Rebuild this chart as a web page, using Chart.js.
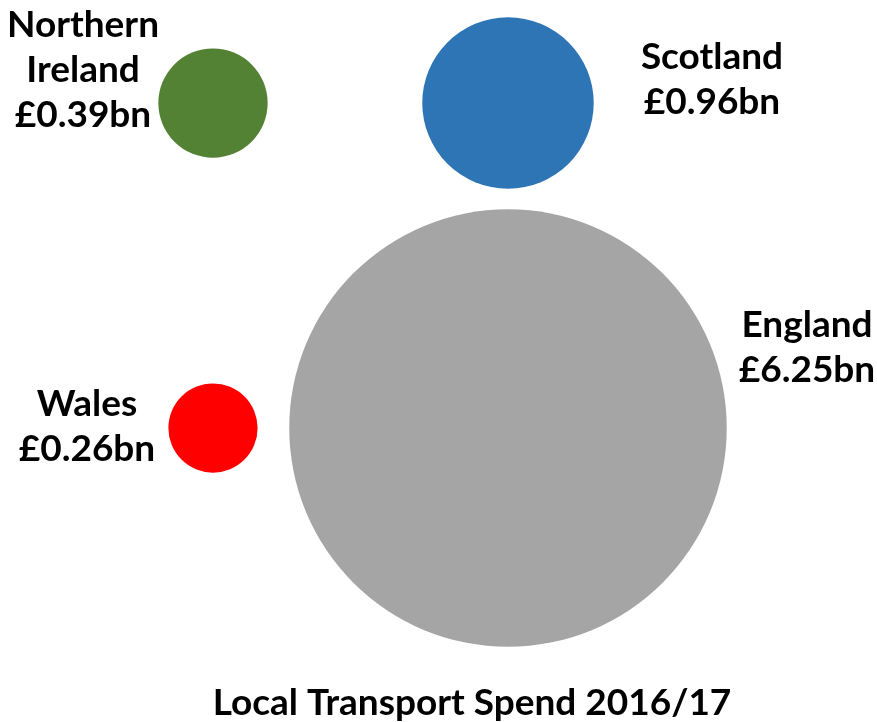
<!DOCTYPE html>
<html>
<head>
<meta charset="utf-8">
<title>Local Transport Spend 2016/17</title>
<script src="https://cdn.jsdelivr.net/npm/chart.js@4/dist/chart.umd.min.js"></script>
<style>
  html, body { margin: 0; padding: 0; background: #ffffff; }
  #wrap { width: 877px; height: 722px; }
</style>
</head>
<body>
<div id="wrap"><canvas id="chart" width="877" height="722"></canvas></div>
<script>
// Spend per nation, £bn
const nations = ['Northern\nIreland', 'Scotland', 'England', 'Wales'];
const spendBn = [0.39, 0.96, 6.25, 0.26];
// Grid cell each bubble sits in (column, row)
const gridColumn = [1, 2, 2, 1];
const gridRow = [2, 2, 1, 1];
const colours = ['#548235', '#2E75B6', '#A5A5A5', '#FF0000'];

// Label block offsets from each bubble centre, in pixels
const labelOffset = [[-130, -33], [204, -23], [299, -80], [-126, -1]];

const FONT = 'Lato, "Open Sans", sans-serif';
const LABEL_SIZE = 37;
const LINE_GAP = 45;
// Bubble area is proportional to spend
const RADIUS_PER_ROOT_BN = 87.5;

const points = spendBn.map((v, i) => ({ x: gridColumn[i], y: gridRow[i], v: v }));

const bubbleLabels = {
  id: 'bubbleLabels',
  afterDatasetsDraw(chart) {
    const ctx = chart.ctx;
    const meta = chart.getDatasetMeta(0);
    ctx.save();
    ctx.fillStyle = '#000000';
    ctx.font = 'bold ' + LABEL_SIZE + 'px ' + FONT;
    ctx.textAlign = 'center';
    ctx.textBaseline = 'middle';
    meta.data.forEach((el, i) => {
      const lines = nations[i].split('\n').concat('£' + spendBn[i].toFixed(2) + 'bn');
      const cx = el.x + labelOffset[i][0];
      const cy = el.y + labelOffset[i][1];
      lines.forEach((t, j) => {
        ctx.fillText(t, cx, cy + (j - (lines.length - 1) / 2) * LINE_GAP);
      });
    });
    ctx.restore();
  }
};

new Chart(document.getElementById('chart'), {
  type: 'bubble',
  data: {
    datasets: [{
      data: points,
      backgroundColor: colours,
      borderWidth: 0,
      radius: (c) => RADIUS_PER_ROOT_BN * Math.sqrt(c.raw.v),
      hoverRadius: 0,
      clip: false
    }]
  },
  options: {
    responsive: false,
    animation: false,
    layout: { padding: { left: 67, right: 0, top: 0, bottom: 0 }, autoPadding: false },
    events: [],
    scales: {
      x: { display: false, min: 0.5051, max: 3.2509 },
      y: { display: false, min: 0.2555, max: 2.317 }
    },
    plugins: {
      legend: { display: false },
      tooltip: { enabled: false },
      title: {
        display: true,
        position: 'bottom',
        text: 'Local Transport Spend 2016/17',
        color: '#000000',
        font: { family: FONT, weight: 'bold', size: 37, lineHeight: 1.0 },
        padding: { top: 15, bottom: 0 }
      }
    }
  },
  plugins: [bubbleLabels]
});
</script>
</body>
</html>
